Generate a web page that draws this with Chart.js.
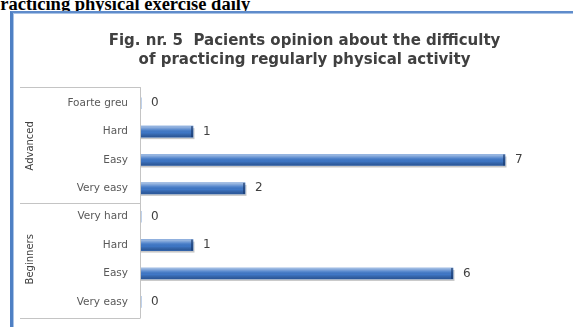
<!DOCTYPE html>
<html>
<head>
<meta charset="utf-8">
<script src="https://cdn.jsdelivr.net/npm/chart.js@4/dist/chart.umd.min.js"></script>
<style>
  html, body { margin: 0; padding: 0; width: 573px; height: 327px; overflow: hidden; background: #fff; }
  #caption {
    position: absolute; left: -10px; top: -5px; white-space: nowrap;
    font: bold 18.5px "Liberation Serif", "DejaVu Serif", serif; line-height: 19px; color: #000;
  }
  #frame {
    position: absolute; left: 10px; top: 11px; width: 620px; height: 340px;
    border-left: 3px solid #4f80c4; border-top: 2px solid #5f8ccb;
    box-shadow: inset 1px 1px 0 #a9c3e6;
  }
  #wrap { position: absolute; left: 0; top: 0; width: 609px; height: 327px; }
</style>
</head>
<body>
<div id="caption">practicing physical exercise daily</div>
<div id="frame"></div>
<div id="wrap"><canvas id="c"></canvas></div>
<script>
// Survey answers, listed top to bottom as they appear on the axis
const titleLines = ['Fig. nr. 5  Pacients opinion about the difficulty', 'of practicing regularly physical activity'];
const groups = ['Advanced', 'Beginners'];
const groupSizes = [4, 4];
const categories = ['Foarte greu', 'Hard', 'Easy', 'Very easy', 'Very hard', 'Hard', 'Easy', 'Very easy'];
const answers = [0, 1, 7, 2, 0, 1, 6, 0];

const FONT = '"DejaVu Sans", sans-serif';
const TEXT = '#404040';

// Two-level category axis: group separators, group names and the axis line
const groupAxis = {
  id: 'groupAxis',
  afterDraw(chart) {
    const y = chart.scales.y, ctx = chart.ctx;
    const step = y.getPixelForValue(1) - y.getPixelForValue(0);
    const edge = i => y.getPixelForValue(i) - step / 2;
    const axisX = chart.chartArea.left - 0.5;
    ctx.save();
    ctx.strokeStyle = '#c4c4c4';
    ctx.lineWidth = 1;
    ctx.beginPath();
    ctx.moveTo(axisX, edge(0) - 2);
    ctx.lineTo(axisX, edge(categories.length) + 2);
    let start = 0;
    const bounds = [0];
    groupSizes.forEach(n => { start += n; bounds.push(start); });
    bounds.forEach(b => {
      const yy = Math.round(edge(b) + (b === 0 ? -2 : b === categories.length ? 2 : 0)) + 0.5;
      ctx.moveTo(20, yy);
      ctx.lineTo(axisX, yy);
    });
    ctx.stroke();
    ctx.fillStyle = TEXT;
    ctx.font = '10px ' + FONT;
    ctx.textAlign = 'center';
    ctx.textBaseline = 'middle';
    groups.forEach((g, k) => {
      const mid = (edge(bounds[k]) + edge(bounds[k + 1])) / 2;
      ctx.save();
      ctx.translate(30, mid);
      ctx.rotate(-Math.PI / 2);
      ctx.fillText(g, 0, 0);
      ctx.restore();
    });
    ctx.restore();
  }
};

// Shadow under each bar, a glossy band on top and the value beside it
const barLook = {
  id: 'barLook',
  beforeDatasetsDraw(chart) {
    const ctx = chart.ctx;
    ctx.save();
    chart.getDatasetMeta(0).data.forEach(el => {
      const w = el.x - el.base;
      if (w <= 0) return;
      ctx.fillStyle = 'rgba(0,0,0,0.22)';
      ctx.fillRect(el.base, el.y - el.height / 2 + 2, w + 1.5, el.height);
    });
    ctx.restore();
  },
  afterDatasetsDraw(chart) {
    const ctx = chart.ctx;
    const meta = chart.getDatasetMeta(0);
    ctx.save();
    meta.data.forEach((el, i) => {
      const w = el.x - el.base;
      const top = el.y - el.height / 2;
      if (w > 0) {
        const g = ctx.createLinearGradient(0, top, 0, top + el.height);
        g.addColorStop(0, 'rgba(255,255,255,0.55)');
        g.addColorStop(0.35, 'rgba(255,255,255,0.1)');
        g.addColorStop(0.6, 'rgba(0,0,0,0)');
        g.addColorStop(1, 'rgba(0,20,60,0.35)');
        ctx.fillStyle = g;
        ctx.fillRect(el.base, top, w, el.height);
        ctx.fillStyle = 'rgba(20,50,100,0.6)';
        ctx.fillRect(el.x - 2, top, 2, el.height);
      }
      ctx.fillStyle = TEXT;
      ctx.font = '12px ' + FONT;
      ctx.textAlign = 'left';
      ctx.textBaseline = 'middle';
      ctx.fillText(String(answers[i]), el.x + 10, el.y);
    });
    ctx.restore();
  }
};

new Chart(document.getElementById('c'), {
  type: 'bar',
  data: {
    labels: categories,
    datasets: [{
      data: answers,
      backgroundColor: '#3f77c6',
      borderWidth: 0,
      barThickness: 11
    }]
  },
  options: {
    indexAxis: 'y',
    responsive: true,
    maintainAspectRatio: false,
    animation: false,
    layout: { padding: { left: 0, right: 0, top: 0, bottom: 11 } },
    plugins: {
      legend: { display: false },
      tooltip: { enabled: false },
      title: {
        display: true,
        text: titleLines,
        color: TEXT,
        font: { family: FONT, size: 15, weight: 'bold', lineHeight: 1.27 },
        padding: { top: 32, bottom: 19 }
      }
    },
    scales: {
      x: { display: false, min: 0, max: 9 },
      y: {
        afterFit(scale) {
          scale.width = 141;
          scale.paddingTop = 0;
          scale.paddingBottom = 0;
        },
        grid: { display: false, drawTicks: false },
        border: { display: false },
        ticks: { color: '#595959', font: { family: FONT, size: 10.5 }, padding: 13 }
      }
    }
  },
  plugins: [groupAxis, barLook]
});
</script>
</body>
</html>
